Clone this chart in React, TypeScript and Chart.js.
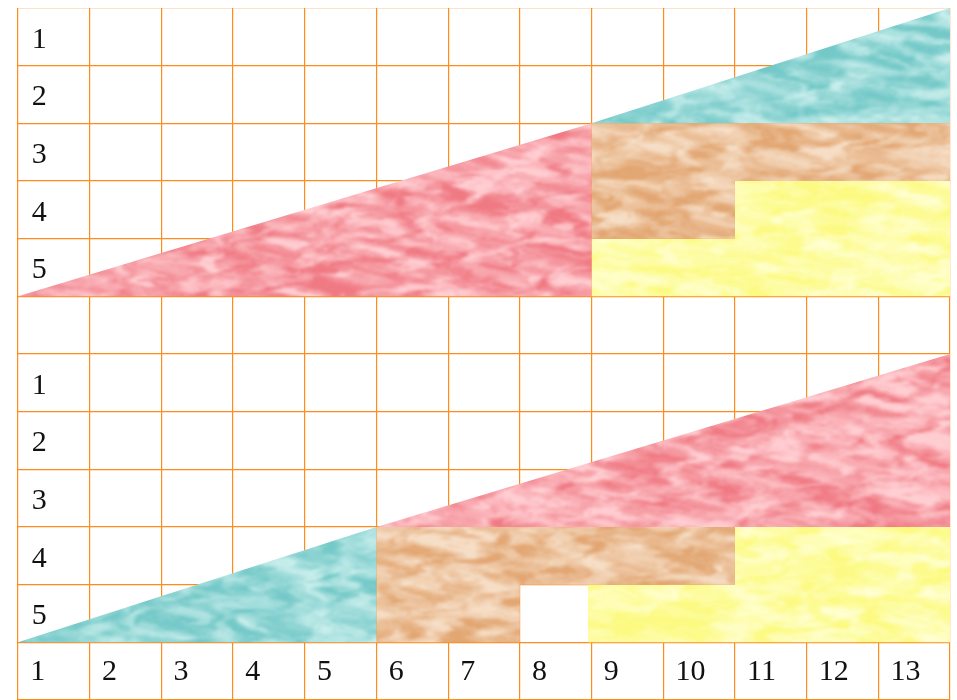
import React, { useEffect, useRef } from 'react';
import { Chart, registerables } from 'chart.js';

Chart.register(...registerables);

// ---------- data ----------
const columnLabels = ['1', '2', '3', '4', '5', '6', '7', '8', '9', '10', '11', '12', '13'];
// one label per grid row, counted from the top (row 6 is the empty separator row)
const rowLabels = ['1', '2', '3', '4', '5', '', '1', '2', '3', '4', '5'];
const columnCount = 13;
const rowCount = 12;

// polygon vertices: [column boundary, row boundary counted from the top]
const upperRed: number[][] = [[0, 5], [8, 2], [8, 5]];
const upperTeal: number[][] = [[8, 2], [13, 0], [13, 2]];
const upperBrown: number[][] = [[8, 2], [13, 2], [13, 3], [10, 3], [10, 4], [8, 4]];
const upperYellow: number[][] = [[8, 4], [10, 4], [10, 3], [13, 3], [13, 5], [8, 5]];
const lowerTeal: number[][] = [[0, 11], [5, 9], [5, 11]];
const lowerRed: number[][] = [[5, 9], [13, 6], [13, 9]];
const lowerBrown: number[][] = [[5, 9], [10, 9], [10, 10], [7, 10], [7, 11], [5, 11]];
const lowerYellow: number[][] = [[10, 9], [13, 9], [13, 11], [7.95, 11], [7.95, 10], [10, 10]];

// ---------- styling ----------
const gridColor = '#ff8c1a';
const labelFont = { family: "'Liberation Serif', 'Times New Roman', serif", size: 30 };

type RGB = [number, number, number];
interface TextureStyle { light: RGB; dark: RGB; seed: number; gain: number; shift: number; }
const textureStyles: Record<string, TextureStyle> = {
  red: { light: [255, 206, 210], dark: [240, 122, 132], seed: 3, gain: 2.1, shift: 0 },
  teal: { light: [200, 238, 236], dark: [116, 201, 200], seed: 11, gain: 2.1, shift: 0.03 },
  brown: { light: [246, 222, 198], dark: [226, 166, 114], seed: 23, gain: 2.1, shift: 0 },
  yellow: { light: [255, 255, 214], dark: [252, 250, 128], seed: 37, gain: 1.8, shift: 0.04 },
};

function hash(x: number, y: number, seed: number): number {
  const s = Math.sin(x * 127.1 + y * 311.7 + seed * 74.7) * 43758.5453;
  return s - Math.floor(s);
}
function valueNoise(x: number, y: number, seed: number): number {
  const ix = Math.floor(x), iy = Math.floor(y);
  const fx = x - ix, fy = y - iy;
  const ux = fx * fx * (3 - 2 * fx), uy = fy * fy * (3 - 2 * fy);
  const a = hash(ix, iy, seed), b = hash(ix + 1, iy, seed);
  const c = hash(ix, iy + 1, seed), d = hash(ix + 1, iy + 1, seed);
  return a + (b - a) * ux + (c - a) * uy + (a - b - c + d) * ux * uy;
}
function fbm(x: number, y: number, seed: number): number {
  let v = 0, amp = 0.5, f = 1;
  for (let o = 0; o < 4; o++) {
    v += amp * valueNoise(x * f, y * f, seed + o * 13);
    f *= 2;
    amp *= 0.5;
  }
  return v / 0.9375;
}

function makeTexture(ctx: CanvasRenderingContext2D, st: TextureStyle): CanvasPattern | string {
  const fallback = `rgb(${st.light.join(',')})`;
  const w = 480, h = 350;
  const small = document.createElement('canvas');
  small.width = w;
  small.height = h;
  const sctx = small.getContext('2d');
  if (!sctx) return fallback;
  const img = sctx.createImageData(w, h);
  for (let y = 0; y < h; y++) {
    for (let x = 0; x < w; x++) {
      const n = fbm(x / 24 + y / 60, y / 8, st.seed);
      const m = fbm(x / 12 + n * 3.2, y / 4.5 + n * 2.2, st.seed + 101);
      let t = 0.5 + (m - 0.5 + st.shift) * st.gain;
      t = Math.max(0, Math.min(1, t));
      const i = (y * w + x) * 4;
      img.data[i] = st.light[0] + (st.dark[0] - st.light[0]) * t;
      img.data[i + 1] = st.light[1] + (st.dark[1] - st.light[1]) * t;
      img.data[i + 2] = st.light[2] + (st.dark[2] - st.light[2]) * t;
      img.data[i + 3] = 255;
    }
  }
  sctx.putImageData(img, 0, 0);
  const big = document.createElement('canvas');
  big.width = w * 2;
  big.height = h * 2;
  const bctx = big.getContext('2d');
  if (!bctx) return fallback;
  bctx.imageSmoothingEnabled = true;
  bctx.imageSmoothingQuality = 'high';
  bctx.filter = 'blur(1.2px)';
  bctx.drawImage(small, -4, -4, w * 2 + 8, h * 2 + 8);
  return ctx.createPattern(big, 'repeat') || fallback;
}

const noPadding = (scale: any) => {
  scale.paddingTop = 0;
  scale.paddingBottom = 0;
  scale.paddingLeft = 0;
  scale.paddingRight = 0;
};

export default function App() {
  const ref = useRef<HTMLCanvasElement>(null);

  useEffect(() => {
    const canvas = ref.current;
    if (!canvas) return;
    const ctx = canvas.getContext('2d');
    if (!ctx) return;

    const red = makeTexture(ctx, textureStyles.red);
    const teal = makeTexture(ctx, textureStyles.teal);
    const brown = makeTexture(ctx, textureStyles.brown);
    const yellow = makeTexture(ctx, textureStyles.yellow);

    const shapes = [
      { pts: upperRed, fill: red },
      { pts: upperTeal, fill: teal },
      { pts: upperBrown, fill: brown },
      { pts: upperYellow, fill: yellow },
      { pts: lowerTeal, fill: teal },
      { pts: lowerRed, fill: red },
      { pts: lowerBrown, fill: brown },
      { pts: lowerYellow, fill: yellow },
    ];

    const chart = new Chart(canvas, {
      type: 'line',
      data: {
        datasets: shapes.map((s) => ({
          data: s.pts.map(([x, y]) => ({ x, y })),
          fill: 'shape',
          backgroundColor: s.fill as any,
          borderColor: 'rgba(0,0,0,0)',
          borderWidth: 0,
          pointRadius: 0,
          pointHoverRadius: 0,
          tension: 0,
        })),
      },
      options: {
        animation: false,
        responsive: false,
        events: [],
        layout: { padding: { left: 10, right: 7, top: 0, bottom: 0 } },
        plugins: { legend: { display: false }, tooltip: { enabled: false } },
        scales: {
          x: {
            type: 'linear',
            min: 0,
            max: columnCount,
            ticks: { display: false, stepSize: 1 },
            grid: { color: gridColor, lineWidth: 1.2, drawTicks: false },
            border: { display: false },
            afterFit: noPadding,
          },
          y: {
            type: 'linear',
            min: 0,
            max: rowCount,
            reverse: true,
            ticks: { display: false, stepSize: 1 },
            grid: { color: gridColor, lineWidth: 1.2, drawTicks: false },
            border: { display: false },
            afterFit: noPadding,
          },
          xl: {
            type: 'linear',
            axis: 'x',
            position: { y: rowCount - 1 },
            min: 0,
            max: columnCount,
            z: 1,
            grid: { display: false, drawTicks: false },
            border: { display: false },
            afterBuildTicks: (scale: any) => {
              scale.ticks = columnLabels.map((_, i) => ({ value: i + 0.17 }));
            },
            afterFit: noPadding,
            ticks: {
              autoSkip: false,
              maxRotation: 0,
              align: 'start',
              padding: 12,
              color: '#111',
              font: labelFont,
              callback: (_v: any, i: number) => columnLabels[i] ?? '',
            },
          },
          yl: {
            type: 'linear',
            axis: 'y',
            position: { x: 0.4 },
            min: 0,
            max: rowCount,
            reverse: true,
            z: 1,
            grid: { display: false, drawTicks: false },
            border: { display: false },
            afterBuildTicks: (scale: any) => {
              scale.ticks = rowLabels.map((_, i) => ({ value: i + 0.55 }));
            },
            afterFit: noPadding,
            ticks: {
              autoSkip: false,
              padding: 0,
              color: '#111',
              font: labelFont,
              callback: (_v: any, i: number) => rowLabels[i] ?? '',
            },
          },
        } as any,
      },
    });
    return () => chart.destroy();
  }, []);

  return (
    <canvas
      ref={ref}
      width={949}
      height={692}
      style={{ position: 'fixed', left: 8, top: 8, width: 949, height: 692, display: 'block' }}
    />
  );
}
